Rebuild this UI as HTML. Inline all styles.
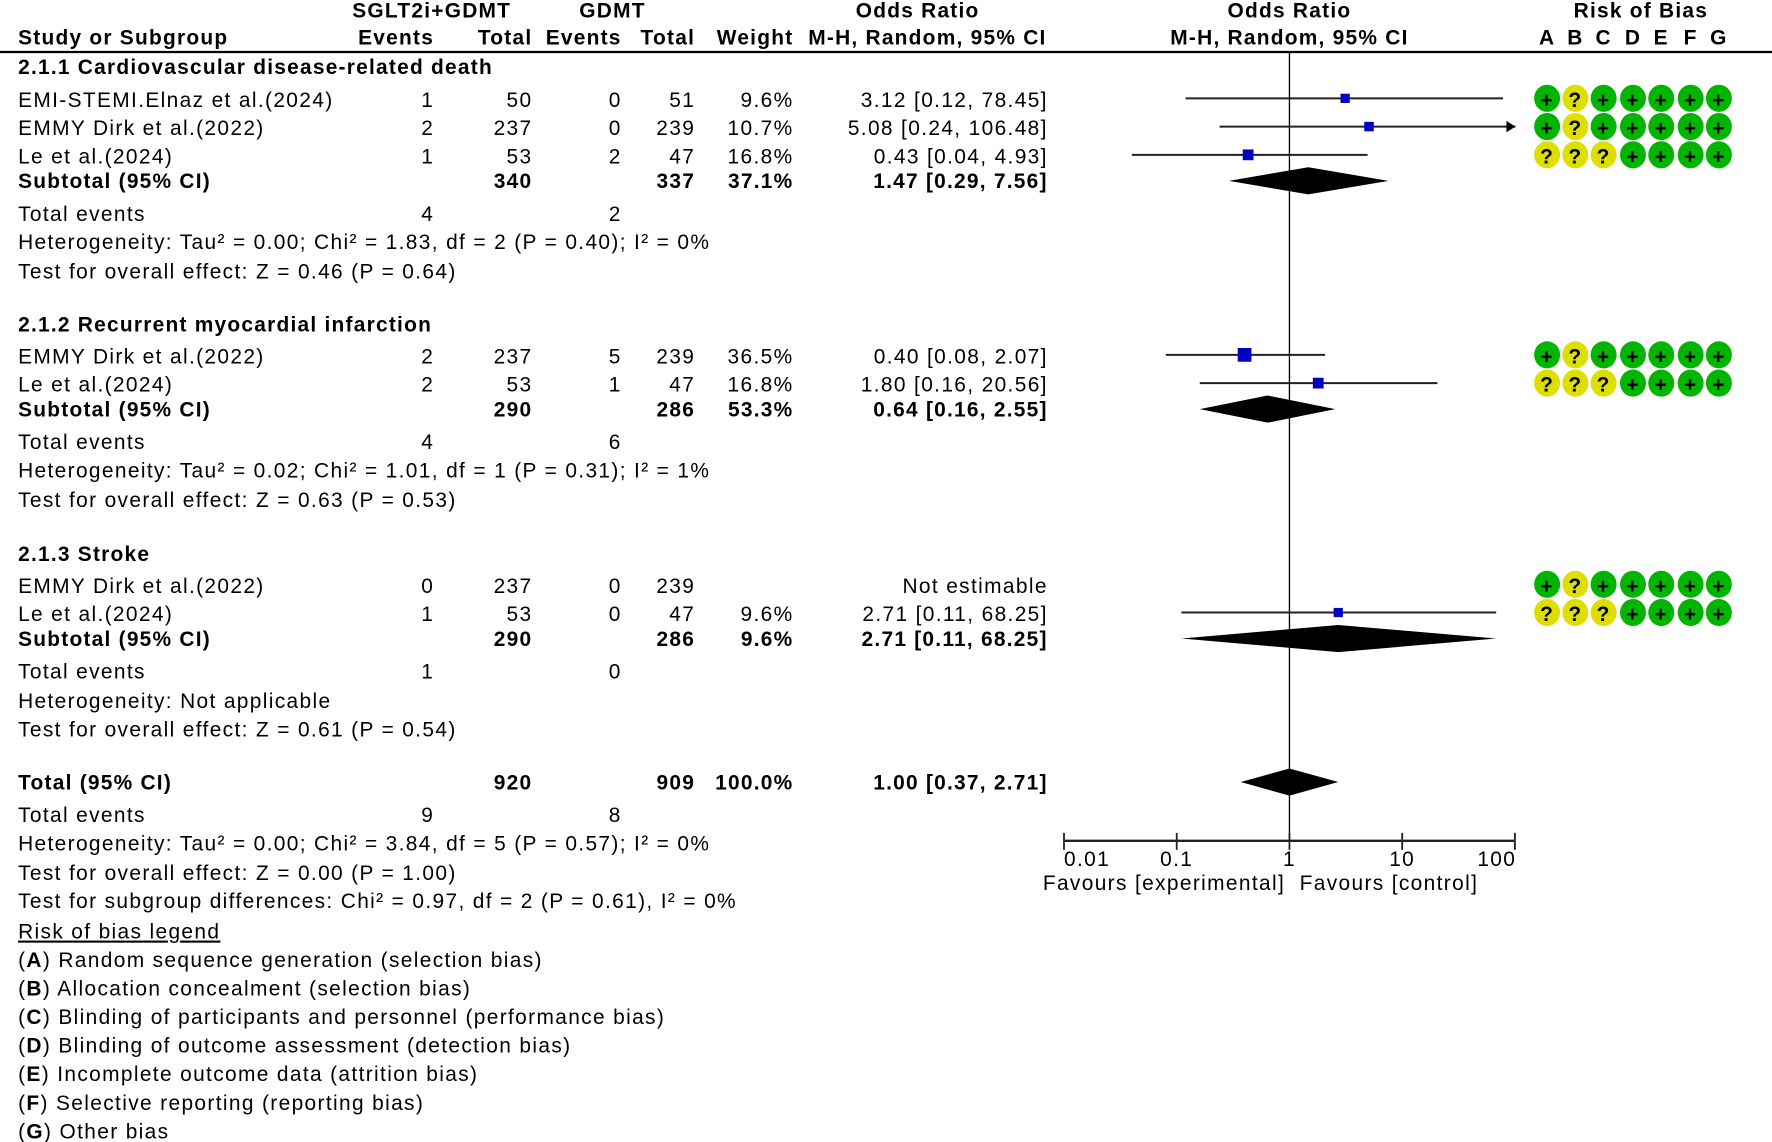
<!DOCTYPE html>
<html><head><meta charset="utf-8"><style>
html,body{margin:0;padding:0;background:#fff;}
svg{display:block;}
text{font-family:"Liberation Sans",sans-serif;font-size:18.5px;fill:#000;letter-spacing:1.2px;}
.b{font-weight:bold;letter-spacing:1.1px;}
.r{text-anchor:end;}
.m{text-anchor:middle;}
</style></head><body>
<svg id="chart" xmlns="http://www.w3.org/2000/svg" width="1772" height="1142" viewBox="0 0 1568 1010.5">
<g id="table"></g>
<g id="plot"></g>
<g id="rob"></g>
</svg>
<script>
// ---- data ----
const studyNames = ["EMI-STEMI.Elnaz et al.(2024)","EMMY Dirk et al.(2022)","Le et al.(2024)","EMMY Dirk et al.(2022)","Le et al.(2024)","EMMY Dirk et al.(2022)","Le et al.(2024)"];
const studyEv1 = [1,2,1,2,2,0,1];
const studyTot1 = [50,237,53,237,53,237,53];
const studyEv2 = [0,0,2,5,1,0,0];
const studyTot2 = [51,239,47,239,47,239,47];
const studyWeight = ["9.6%","10.7%","16.8%","36.5%","16.8%","","9.6%"];
const studyWeightNum = [9.6,10.7,16.8,36.5,16.8,0,9.6];
const studyOR = [3.12,5.08,0.43,0.40,1.80,null,2.71];
const studyLo = [0.12,0.24,0.04,0.08,0.16,null,0.11];
const studyHi = [78.45,106.48,4.93,2.07,20.56,null,68.25];
const studyY = [87,112,137,314,339,517,542];
const studyRob = ["+?+++++","+?+++++","???++++","+?+++++","???++++","+?+++++","???++++"];

const poolLabels = ["Subtotal (95% CI)","Subtotal (95% CI)","Subtotal (95% CI)","Total (95% CI)"];
const poolTot1 = [340,290,290,920];
const poolTot2 = [337,286,286,909];
const poolWeight = ["37.1%","53.3%","9.6%","100.0%"];
const poolOR = [1.47,0.64,2.71,1.00];
const poolLo = [0.29,0.16,0.11,0.37];
const poolHi = [7.56,2.55,68.25,2.71];
const poolY = [160,362,565,692];

const tickValues = [0.01,0.1,1,10,100];
const tickLabels = ["0.01","0.1","1","10","100"];

// ---- axis ----
const X1 = 1141, DEC = 99.75, XMIN = 942, XMAX = 1341, AXY = 744;
const xScale = v => X1 + DEC*Math.log10(v);
const NS = "http://www.w3.org/2000/svg";
function mk(tag, attrs, parent){const e=document.createElementNS(NS,tag);for(const k in attrs)e.setAttribute(k,attrs[k]);parent.appendChild(e);return e;}
function txt(x,y,s,cls,parent,name){
  const parts=(cls||"").split(" ");
  const isR = parts.indexOf("r")>=0, isB = parts.indexOf("b")>=0;
  const e=mk("text",{x:isR? x+(isB?1.1:1.2):x,y:y+6.5,class:cls||""},parent);e.textContent=s;


return e;}
const T=document.getElementById("table"),P=document.getElementById("plot"),R=document.getElementById("rob");
const fmt=v=>v.toFixed(2);

// headers
txt(382,9,"SGLT2i+GDMT","b m",T,"header-sglt2i-gdmt");
txt(542,9,"GDMT","b m",T,"header-gdmt");
txt(812,9,"Odds Ratio","b m",T,"header-odds-ratio");
txt(1141,9,"Odds Ratio","b m",T,"header-plot-odds-ratio");
txt(1452,9,"Risk of Bias","b m",T,"header-risk-of-bias");
txt(16,33,"Study or Subgroup","b",T,"header-study");
txt(383,33,"Events","b r",T,"header-events-1");
txt(470,33,"Total","b r",T,"header-total-1");
txt(549,33,"Events","b r",T,"header-events-2");
txt(614,33,"Total","b r",T,"header-total-2");
txt(701,33,"Weight","b r",T,"header-weight");
txt(925,33,"M-H, Random, 95% CI","b r",T,"header-method");
txt(1141,33,"M-H, Random, 95% CI","b m",T,"header-plot-method");
const robX=[1369,1394,1419,1445,1470,1496,1521];
"ABCDEFG".split("").forEach((c,i)=>txt(robX[i],33,c,"b m",T,"header-rob-"+c.toLowerCase()));
const hl=mk("line",{x1:0,x2:1568,y1:46,y2:46,stroke:"#000","stroke-width":2},T);



// subgroup headings
txt(16,59,"2.1.1 Cardiovascular disease-related death","b",T,"subgroup-2-1-1-title");
txt(16,287,"2.1.2 Recurrent myocardial infarction","b",T,"subgroup-2-1-2-title");
txt(16,490,"2.1.3 Stroke","b",T,"subgroup-2-1-3-title");

// study rows
studyNames.forEach((n,i)=>{
  const y=studyY[i]+1;
  txt(16,y,n,"",T,"study-name");
  txt(383,y,String(studyEv1[i]),"r",T,"study-events-1");
  txt(470,y,String(studyTot1[i]),"r",T,"study-total-1");
  txt(549,y,String(studyEv2[i]),"r",T,"study-events-2");
  txt(614,y,String(studyTot2[i]),"r",T,"study-total-2");
  txt(701,y,studyWeight[i],"r",T,"study-weight");
  txt(926,y,studyOR[i]==null?"Not estimable":fmt(studyOR[i])+" ["+fmt(studyLo[i])+", "+fmt(studyHi[i])+"]","r",T,"study-or-ci");
});
poolLabels.forEach((n,i)=>{
  const y=poolY[i];
  txt(16,y,n,"b",T,"pooled-label");
  txt(470,y,String(poolTot1[i]),"b r",T,"pooled-total-1");
  txt(614,y,String(poolTot2[i]),"b r",T,"pooled-total-2");
  txt(701,y,poolWeight[i],"b r",T,"pooled-weight");
  txt(926,y,fmt(poolOR[i])+" ["+fmt(poolLo[i])+", "+fmt(poolHi[i])+"]","b r",T,"pooled-or-ci");
});

// stats lines
const statLines=[
 [189,"Total events","4","2"],[214,"Heterogeneity: Tau² = 0.00; Chi² = 1.83, df = 2 (P = 0.40); I² = 0%"],[240,"Test for overall effect: Z = 0.46 (P = 0.64)"],
 [391,"Total events","4","6"],[416,"Heterogeneity: Tau² = 0.02; Chi² = 1.01, df = 1 (P = 0.31); I² = 1%"],[442,"Test for overall effect: Z = 0.63 (P = 0.53)"],
 [594,"Total events","1","0"],[620,"Heterogeneity: Not applicable"],[645,"Test for overall effect: Z = 0.61 (P = 0.54)"],
 [721,"Total events","9","8"],[746,"Heterogeneity: Tau² = 0.00; Chi² = 3.84, df = 5 (P = 0.57); I² = 0%"],[772,"Test for overall effect: Z = 0.00 (P = 1.00)"],
 [797,"Test for subgroup differences: Chi² = 0.97, df = 2 (P = 0.61), I² = 0%"]];
statLines.forEach(s=>{
  txt(16,s[0],s[1],"",T,"stat-line");
  if(s[2]!==undefined){txt(383,s[0],s[2],"r",T,"total-events-1");txt(549,s[0],s[3],"r",T,"total-events-2");}
});
// legend
const lg=txt(16,824,"Risk of bias legend","",T,"rob-legend-title");
lg.setAttribute("text-decoration","underline");
const legendItems=[["A","Random sequence generation (selection bias)"],["B","Allocation concealment (selection bias)"],["C","Blinding of participants and personnel (performance bias)"],["D","Blinding of outcome assessment (detection bias)"],["E","Incomplete outcome data (attrition bias)"],["F","Selective reporting (reporting bias)"],["G","Other bias"]];
legendItems.forEach((it,i)=>{
  const e=mk("text",{x:16,y:849+i*25.3+6.5,"letter-spacing":"1.0px"},T);
  
  
  const t1=mk("tspan",{},e);t1.textContent="(";
  const t1b=mk("tspan",{"font-weight":"bold"},e);t1b.textContent=it[0];
  const t1c=mk("tspan",{},e);t1c.textContent=")";
  const t2=mk("tspan",{},e);t2.textContent=" "+it[1];
});

// plot: null line and axis
const nl=mk("line",{x1:X1,x2:X1,y1:46,y2:AXY,stroke:"#000","stroke-width":1.2},P);


const ax=mk("line",{x1:XMIN,x2:XMAX,y1:AXY,y2:AXY,stroke:"#222","stroke-width":2},P);


tickValues.forEach((v,i)=>{
  const x=xScale(v);
  const tk=mk("line",{x1:x,x2:x,y1:AXY-7,y2:AXY+8,stroke:"#222","stroke-width":1.6},P);
  
  
  txt(x,760,tickLabels[i],i===0?"":(i===tickLabels.length-1?"r":"m"),P,"x-tick-label");
});
txt(1136,781,"Favours [experimental]","r",P,"favours-experimental-label");
txt(1150,781,"Favours [control]","",P,"favours-control-label");

// study marks
studyOR.forEach((v,i)=>{
  if(v==null)return;
  const y=studyY[i];
  const lo=Math.max(xScale(studyLo[i]),XMIN), hiRaw=xScale(studyHi[i]), hi=Math.min(hiRaw,XMAX);
  const l=mk("line",{x1:lo,x2:hi,y1:y,y2:y,stroke:"#222","stroke-width":1.8},P);
  
  
  if(hiRaw>XMAX){
    const a=mk("polygon",{points:`${XMAX},${y} ${XMAX-8},${y-5} ${XMAX-8},${y+5}`,fill:"#000"},P);
    
    
  }
  const s=4+Math.sqrt(studyWeightNum[i])*1.35;
  const sq=mk("rect",{x:xScale(v)-s/2,y:y-s/2,width:s,height:s,fill:"#0000c0"},P);
  
  
});
// diamonds
poolOR.forEach((v,i)=>{
  const y=poolY[i],h=12;
  const d=mk("polygon",{points:`${xScale(poolLo[i])},${y} ${xScale(v)},${y-h} ${xScale(poolHi[i])},${y} ${xScale(v)},${y+h}`,fill:"#000"},P);
  
  
});

// risk of bias
studyRob.forEach((r,i)=>{
  const y=studyY[i];
  r.split("").forEach((c,j)=>{
    const g=mk("g",{},R);
    
    
    mk("ellipse",{cx:robX[j],cy:y,rx:11.5,ry:12,fill:c==="+"?"#00b400":"#dede00"},g);
    const t=mk("text",{x:robX[j],y:y+7.5,class:"m b","font-size":"20","letter-spacing":"0"},g);
    t.textContent=c;
  });
});
</script>
</body></html>
